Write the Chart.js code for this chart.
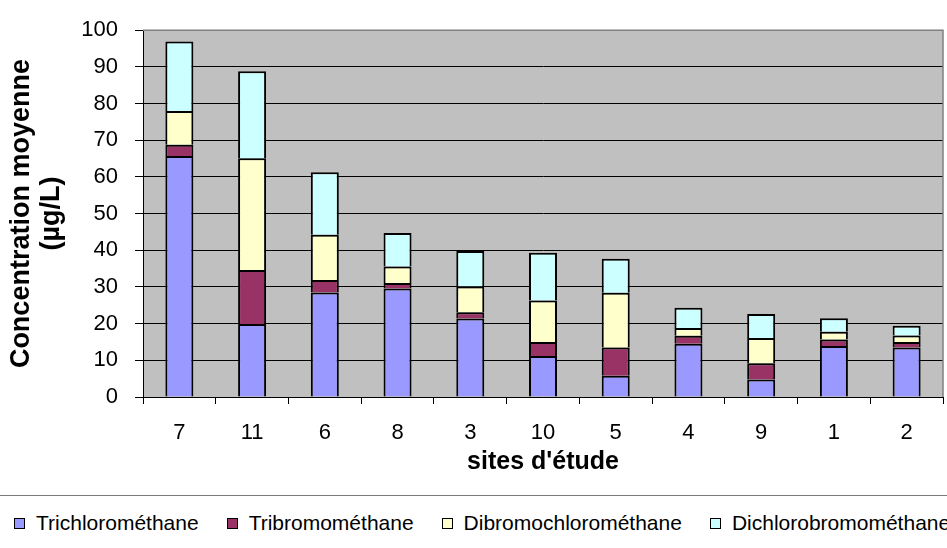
<!DOCTYPE html>
<html>
<head>
<meta charset="utf-8">
<script src="https://cdn.jsdelivr.net/npm/chart.js@4/dist/chart.umd.min.js"></script>
<style>
  body { margin: 0; background: #fff; }
  #wrap { position: relative; width: 947px; height: 548px; overflow: hidden; font-family: "Liberation Sans", Arial, sans-serif; }
  #chart { position: absolute; left: 0; top: 0; }
  #sep { position: absolute; left: 0; top: 495px; width: 947px; height: 0; border-top: 1.5px solid #7a7a7a; }
  #legend { position: absolute; left: 14px; top: 511px; white-space: nowrap; font-size: 21px; color: #000; display: flex; align-items: center; }
  #legend .box { display: inline-block; width: 9px; height: 9px; border: 1.5px solid #000; margin-right: 11px; }
  #legend .item { display: inline-flex; align-items: center; margin-right: 28px; }
</style>
</head>
<body>
<div id="wrap">
  <canvas id="chart" width="947" height="495"></canvas>
  <div id="sep"></div>
  <div id="legend"></div>
</div>
<script>
// sites, dans l'ordre du graphique
const sites = ["7", "11", "6", "8", "3", "10", "5", "4", "9", "1", "2"];

// concentrations moyennes (µg/L)
const trichloromethane = [65.7, 19.9, 28.5, 29.6, 21.4, 11.2, 5.8, 14.5, 4.8, 13.9, 13.5];
const tribromomethane = [3.1, 14.7, 3.4, 1.5, 1.7, 3.8, 7.7, 2.2, 4.4, 1.8, 1.5];
const dibromochloromethane = [9.2, 30.5, 12.3, 4.5, 7.0, 11.3, 14.9, 2.1, 6.9, 2.1, 1.8];
const dichlorobromomethane = [18.9, 23.7, 17.1, 9.1, 9.7, 13.0, 9.3, 5.5, 6.5, 3.7, 2.6];

const seriesNames = ["Trichlorométhane", "Tribromométhane", "Dibromochlorométhane", "Dichlorobromométhane"];
const seriesColors = ["#9999FF", "#993366", "#FFFFCC", "#CCFFFF"];
const seriesData = [trichloromethane, tribromomethane, dibromochloromethane, dichlorobromomethane];

// fond gris de la zone de tracé + cadre
const plotBg = {
    id: "plotBg",
    beforeDraw(chart) {
        const { ctx, chartArea: a } = chart;
        ctx.save();
        ctx.fillStyle = "#C0C0C0";
        ctx.fillRect(a.left, a.top, a.right - a.left, a.bottom - a.top);
        ctx.restore();
    },
    afterDraw(chart) {
        const { ctx, chartArea: a } = chart;
        ctx.save();
        ctx.strokeStyle = "#808080";
        ctx.lineWidth = 1.5;
        ctx.beginPath();
        ctx.moveTo(a.left, a.top);
        ctx.lineTo(a.right, a.top);
        ctx.lineTo(a.right, a.bottom);
        ctx.stroke();
        ctx.restore();
    }
};

const font = "'Liberation Sans', Arial, sans-serif";

new Chart(document.getElementById("chart"), {
    type: "bar",
    data: {
        labels: sites,
        datasets: seriesData.map((d, i) => ({
            label: seriesNames[i],
            data: d,
            backgroundColor: seriesColors[i],
            borderColor: "#000",
            borderWidth: 2,
            categoryPercentage: 1,
            barPercentage: 0.385
        }))
    },
    options: {
        responsive: false,
        animation: false,
        layout: { padding: { top: 24, right: 4, left: 0, bottom: 0 } },
        plugins: { legend: { display: false }, tooltip: { enabled: false } },
        scales: {
            x: {
                stacked: true,
                afterFit(scale) { scale.height = 98; },
                grid: { drawOnChartArea: false, color: "#000", tickLength: 7, lineWidth: 1 },
                border: { color: "#000", width: 1 },
                ticks: { color: "#000", font: { family: font, size: 22 }, padding: 16 },
                title: {
                    display: true,
                    text: "sites d'étude",
                    color: "#000",
                    font: { family: font, size: 25, weight: "bold" },
                    padding: { top: 0, bottom: 18 }
                }
            },
            y: {
                stacked: true,
                min: 0,
                max: 100,
                afterFit(scale) { scale.width = 143; },
                grid: { color: "#000", tickLength: 8, lineWidth: 1 },
                border: { color: "#000", width: 1 },
                ticks: { stepSize: 10, color: "#000", font: { family: font, size: 22 }, padding: 17 },
                title: {
                    display: true,
                    text: ["Concentration moyenne", "(µg/L)"],
                    color: "#000",
                    font: { family: font, size: 27, weight: "bold", lineHeight: 1.1 },
                    padding: { top: 7, bottom: 0 }
                }
            }
        }
    },
    plugins: [plotBg]
});

// légende en bas
const legend = document.getElementById("legend");
legend.innerHTML = seriesNames.map((n, i) =>
    `<span class="item"><span class="box" style="background:${seriesColors[i]}"></span>${n}</span>`
).join("");
</script>
</body>
</html>
